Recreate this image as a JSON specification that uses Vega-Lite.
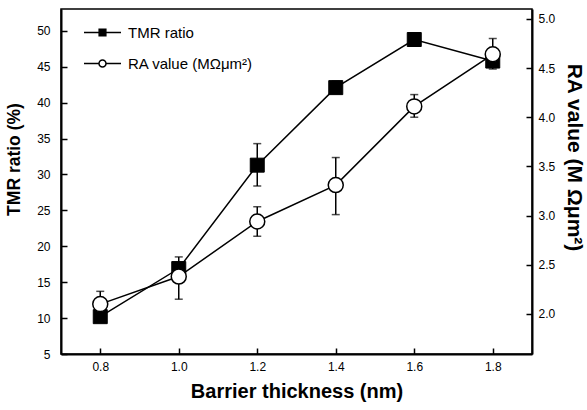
{
  "$schema": "https://vega.github.io/schema/vega-lite/v6.json",
  "width": 471,
  "height": 345,
  "autosize": {"type": "none"},
  "padding": {"left": 61, "top": 9, "right": 55, "bottom": 56},
  "background": "white",
  "config": {
    "font": "Liberation Sans",
    "view": {"stroke": "black", "strokeWidth": 1.5},
    "axis": {
      "domainColor": "black", "domainWidth": 2,
      "tickColor": "black", "tickWidth": 1.5, "tickSize": -6,
      "labelColor": "black", "labelFont": "Liberation Sans", "labelFontSize": 12, "labelOverlap": false,
      "titleFont": "Liberation Sans", "titleFontSize": 18, "titleFontWeight": "bold", "titleColor": "black",
      "grid": false
    },
    "legend": {
      "orient": "none", "legendX": 22, "legendY": 4, "padding": 0,
      "labelFontSize": 15, "labelFont": "Liberation Sans", "labelColor": "black",
      "symbolSize": 1369, "labelOffset": 6, "rowPadding": 3,
      "symbolStrokeWidth": 1.5, "symbolStrokeColor": "black", "symbolOpacity": 1
    }
  },
  "datasets": {
    "tmr": [
      {"x": 0.8, "series": "TMR ratio", "value": 10.2, "lo": 9.6, "hi": 10.8},
      {"x": 1.0, "series": "TMR ratio", "value": 16.9, "lo": 16.3, "hi": 17.5},
      {"x": 1.2, "series": "TMR ratio", "value": 31.3, "lo": 28.4, "hi": 34.3},
      {"x": 1.4, "series": "TMR ratio", "value": 42.1, "lo": 41.3, "hi": 43.0},
      {"x": 1.6, "series": "TMR ratio", "value": 48.8, "lo": 48.2, "hi": 49.4},
      {"x": 1.8, "series": "TMR ratio", "value": 45.8, "lo": 45.2, "hi": 46.4}
    ],
    "ra": [
      {"x": 0.8, "series": "RA value (MΩμm²)", "value": 2.10, "lo": 1.97, "hi": 2.23},
      {"x": 1.0, "series": "RA value (MΩμm²)", "value": 2.38, "lo": 2.15, "hi": 2.58},
      {"x": 1.2, "series": "RA value (MΩμm²)", "value": 2.94, "lo": 2.79, "hi": 3.09},
      {"x": 1.4, "series": "RA value (MΩμm²)", "value": 3.31, "lo": 3.01, "hi": 3.59},
      {"x": 1.6, "series": "RA value (MΩμm²)", "value": 4.11, "lo": 4.00, "hi": 4.23},
      {"x": 1.8, "series": "RA value (MΩμm²)", "value": 4.64, "lo": 4.49, "hi": 4.80}
    ]
  },
  "encoding": {
    "x": {
      "field": "x", "type": "quantitative",
      "scale": {"domain": [0.7, 1.9], "nice": false, "zero": false},
      "axis": {"values": [0.8, 1.0, 1.2, 1.4, 1.6, 1.8], "format": ".1f", "title": "Barrier thickness (nm)", "labelPadding": 13, "titlePadding": 9, "titleFontSize": 20}
    }
  },
  "layer": [
    {
      "data": {"name": "tmr"},
      "encoding": {
        "y": {"field": "value", "type": "quantitative", "title": "TMR ratio (%)",
          "scale": {"domain": [5, 53.05], "nice": false, "zero": false},
          "axis": {"orient": "left", "values": [5, 10, 15, 20, 25, 30, 35, 40, 45, 50], "format": "d", "labelOverlap": false, "labelPadding": 17, "titlePadding": 13, "titleFontSize": 17.5, "titleY": 150}}
      },
      "layer": [
        {
          "mark": {"type": "line", "color": "black", "strokeWidth": 1.5}
        },
        {
          "mark": {"type": "rule", "color": "black", "strokeWidth": 1.5},
          "encoding": {
            "y": {"field": "lo", "type": "quantitative", "title": "TMR ratio (%)",
              "scale": {"domain": [5, 53.05], "nice": false, "zero": false},
              "axis": {"orient": "left", "values": [5, 10, 15, 20, 25, 30, 35, 40, 45, 50], "format": "d", "labelOverlap": false, "labelPadding": 17, "titlePadding": 13, "titleFontSize": 17.5, "titleY": 150}},
            "y2": {"field": "hi"}
          }
        },
        {
          "mark": {"type": "tick", "orient": "horizontal", "size": 8, "thickness": 1.5, "color": "black"},
          "encoding": {"y": {"field": "lo", "type": "quantitative", "title": "TMR ratio (%)",
              "scale": {"domain": [5, 53.05], "nice": false, "zero": false},
              "axis": {"orient": "left", "values": [5, 10, 15, 20, 25, 30, 35, 40, 45, 50], "format": "d", "labelOverlap": false, "labelPadding": 17, "titlePadding": 13, "titleFontSize": 17.5, "titleY": 150}}}
        },
        {
          "mark": {"type": "tick", "orient": "horizontal", "size": 8, "thickness": 1.5, "color": "black"},
          "encoding": {"y": {"field": "hi", "type": "quantitative", "title": "TMR ratio (%)",
              "scale": {"domain": [5, 53.05], "nice": false, "zero": false},
              "axis": {"orient": "left", "values": [5, 10, 15, 20, 25, 30, 35, 40, 45, 50], "format": "d", "labelOverlap": false, "labelPadding": 17, "titlePadding": 13, "titleFontSize": 17.5, "titleY": 150}}}
        },
        {
          "mark": {"type": "point", "shape": "square", "filled": true, "fill": "black", "stroke": "black", "strokeWidth": 1, "size": 196, "opacity": 1}
        },
        {
          "mark": {"type": "point", "filled": true, "strokeWidth": 1.5, "size": 1, "opacity": 0},
          "encoding": {
            "fill": {
              "field": "series", "type": "nominal",
              "scale": {"domain": ["TMR ratio", "RA value (MΩμm²)"], "range": ["black", "white"]},
              "legend": {"title": null}
            },
            "stroke": {
              "field": "series", "type": "nominal",
              "scale": {"domain": ["TMR ratio", "RA value (MΩμm²)"], "range": ["black", "black"]},
              "legend": {"title": null}
            },
            "shape": {
              "field": "series", "type": "nominal",
              "scale": {"domain": ["TMR ratio", "RA value (MΩμm²)"], "range": ["M-1,0H1M-0.18,-0.18H0.18V0.18H-0.18Z", "M-1,0H-0.19M0.19,0H1M-0.19,0A0.19,0.19,0,1,1,0.19,0A0.19,0.19,0,1,1,-0.19,0Z"]},
              "legend": {"title": null}
            }
          }
        }
      ]
    },
    {
      "data": {"name": "ra"},
      "encoding": {
        "y": {"field": "value", "type": "quantitative", "title": "RA value (M Ωμm²)",
          "scale": {"domain": [1.593, 5.10], "nice": false, "zero": false},
          "axis": {"orient": "right", "values": [2.0, 2.5, 3.0, 3.5, 4.0, 4.5, 5.0], "format": ".1f", "labelOverlap": false, "labelPadding": 12, "titlePadding": 9, "titleFontSize": 21, "titleY": 148}}
      },
      "layer": [
        {
          "mark": {"type": "line", "color": "black", "strokeWidth": 1.5}
        },
        {
          "mark": {"type": "rule", "color": "black", "strokeWidth": 1.5},
          "encoding": {
            "y": {"field": "lo", "type": "quantitative", "title": "RA value (M Ωμm²)",
              "scale": {"domain": [1.593, 5.10], "nice": false, "zero": false},
              "axis": {"orient": "right", "values": [2.0, 2.5, 3.0, 3.5, 4.0, 4.5, 5.0], "format": ".1f", "labelOverlap": false, "labelPadding": 12, "titlePadding": 9, "titleFontSize": 21, "titleY": 148}},
            "y2": {"field": "hi"}
          }
        },
        {
          "mark": {"type": "tick", "orient": "horizontal", "size": 8, "thickness": 1.5, "color": "black"},
          "encoding": {"y": {"field": "lo", "type": "quantitative", "title": "RA value (M Ωμm²)",
              "scale": {"domain": [1.593, 5.10], "nice": false, "zero": false},
              "axis": {"orient": "right", "values": [2.0, 2.5, 3.0, 3.5, 4.0, 4.5, 5.0], "format": ".1f", "labelOverlap": false, "labelPadding": 12, "titlePadding": 9, "titleFontSize": 21, "titleY": 148}}}
        },
        {
          "mark": {"type": "tick", "orient": "horizontal", "size": 8, "thickness": 1.5, "color": "black"},
          "encoding": {"y": {"field": "hi", "type": "quantitative", "title": "RA value (M Ωμm²)",
              "scale": {"domain": [1.593, 5.10], "nice": false, "zero": false},
              "axis": {"orient": "right", "values": [2.0, 2.5, 3.0, 3.5, 4.0, 4.5, 5.0], "format": ".1f", "labelOverlap": false, "labelPadding": 12, "titlePadding": 9, "titleFontSize": 21, "titleY": 148}}}
        },
        {
          "mark": {"type": "point", "shape": "circle", "filled": true, "fill": "white", "stroke": "black", "strokeWidth": 1.5, "size": 225, "opacity": 1}
        }
      ]
    }
  ],
  "resolve": {"scale": {"y": "independent"}}
}
